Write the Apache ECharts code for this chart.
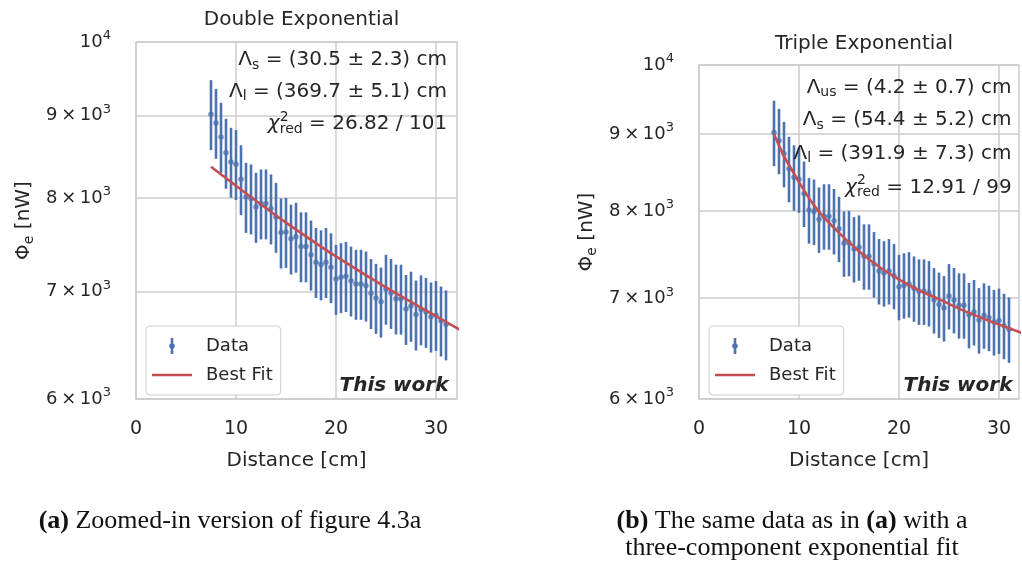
<!DOCTYPE html>
<html>
<head>
<meta charset="utf-8">
<script src="https://cdn.jsdelivr.net/npm/echarts@6/dist/echarts.min.js"></script>
<style>
  html, body { margin: 0; padding: 0; background: #fff; }
  #chart { width: 1022px; height: 568px; }
</style>
</head>
<body>
<div id="chart"></div>
<script>
// measured radiant flux vs. distance (same data in both panels)
const distance = [7.5, 8, 8.5, 9, 9.5, 10, 10.5, 11, 11.5, 12, 12.5, 13, 13.5, 14, 14.5, 15,
  15.5, 16, 16.5, 17, 17.5, 18, 18.5, 19, 19.5, 20, 20.5, 21, 21.5, 22, 22.5, 23,
  23.5, 24, 24.5, 25, 25.5, 26, 26.5, 27, 27.5, 28, 28.5, 29, 29.5, 30, 30.5, 31]
const flux = [9018, 8906, 8730, 8533, 8423, 8396, 8216, 8011, 7993, 7897, 7936, 7936, 7879, 7785, 7613, 7619,
  7547, 7567, 7464, 7464, 7376, 7298, 7274, 7298, 7244, 7124, 7141, 7153, 7107, 7074, 7074, 7056,
  6981, 6933, 6896, 7024, 6982, 6926, 6925, 6824, 6855, 6770, 6820, 6795, 6750, 6765, 6712, 6675]
const fluxErr = [451, 445, 437, 427, 421, 420, 411, 401, 400, 395, 397, 397, 394, 389, 381, 381,
  377, 378, 373, 373, 369, 365, 364, 365, 362, 356, 357, 358, 355, 354, 354, 353,
  349, 347, 345, 351, 349, 346, 346, 341, 343, 339, 341, 340, 338, 338, 336, 334]

// best-fit curves
const fitDistDouble = [7.5, 10, 12.5, 15, 17.5, 20, 22.5, 25, 27.5, 30, 32.5]
const fitFluxDouble = [8365, 8140, 7925, 7722, 7535, 7358, 7195, 7040, 6895, 6755, 6620]
const fitDistTriple = [7.5, 8.5, 9.5, 10.5, 11.5, 12.5, 14, 16, 18, 20, 22, 24, 26, 28, 30, 32.5]
const fitFluxTriple = [9000, 8700, 8470, 8255, 8068, 7920, 7735, 7520, 7345, 7205, 7085, 6990, 6890, 6803, 6723, 6630]

const xTicks = [0, 10, 20, 30]
const yTicks = [6000, 7000, 8000, 9000, 10000]

const BLUE = '#4C72B0'
const RED = '#C44E52'
const TEXT = '#262626'
const GRID = '#cccccc'
const FONT = 'DejaVu Sans'
const SERIF = 'Liberation Serif'

const lg = v => Math.log10(v)

const panels = [
  { grid: { left: 136, top: 42, width: 321, height: 357 }, xMax: 32.1, title: 'Double Exponential', titleTop: 5,
    fitX: fitDistDouble, fitY: fitFluxDouble },
  { grid: { left: 699, top: 65, width: 320, height: 334 }, xMax: 32.0, title: 'Triple Exponential', titleTop: 29,
    fitX: fitDistTriple, fitY: fitFluxTriple }
]

const chart = echarts.init(document.getElementById('chart'), null, { renderer: 'canvas' })

// text width helper, used to left-align the chi^2 line so that the
// superscript and subscript can stack
const measureCtx = document.createElement('canvas').getContext('2d')
const textWidth = (font, s) => {
  measureCtx.font = font
  return measureCtx.measureText(s).width
}

const yLabel = v => {
  const n = Math.round(Math.pow(10, v))
  if (n === 10000) return '{n|10}{sup|4}'
  return '{n|' + (n / 1000) + '\u2009\u00d7\u200910}{sup|3}'
}

const tickRich = {
  n: { fontSize: 18, fontFamily: FONT, color: TEXT, lineHeight: 24 },
  sup: { fontSize: 13, fontFamily: FONT, color: TEXT, lineHeight: 24, padding: [0, 0, 12, 0] }
}

const errRows = distance.map((d, i) => [d, lg(flux[i] - fluxErr[i]), lg(flux[i] + fluxErr[i])])
const dotRows = distance.map((d, i) => [d, lg(flux[i])])

const dataIcon = 'path://M0,0M40,16M18.7,0h2.6v16h-2.6zM17.2,8a2.8,2.8 0 1,1 5.6,0a2.8,2.8 0 1,1 -5.6,0z'
const fitIcon = 'path://M0,0M40,16M0,6.7h40v2.6h-40z'

const series = []
panels.forEach((p, k) => {
  series.push({
    name: 'Data',
    type: 'custom',
    xAxisIndex: k,
    yAxisIndex: k,
    data: errRows,
    encode: { x: 0, y: [1, 2] },
    itemStyle: { color: BLUE },
    renderItem: (params, api) => {
      const top = api.coord([api.value(0), api.value(2)])
      const bot = api.coord([api.value(0), api.value(1)])
      return {
        type: 'line',
        shape: { x1: top[0], y1: top[1], x2: bot[0], y2: bot[1] },
        style: { stroke: BLUE, lineWidth: 2.6 }
      }
    }
  })
  series.push({
    name: 'Data',
    type: 'scatter',
    xAxisIndex: k,
    yAxisIndex: k,
    data: dotRows,
    symbolSize: 5.5,
    itemStyle: { color: BLUE }
  })
  series.push({
    name: 'Best Fit',
    type: 'line',
    xAxisIndex: k,
    yAxisIndex: k,
    data: p.fitX.map((d, i) => [d, lg(p.fitY[i])]),
    smooth: 0.3,
    symbol: 'none',
    clip: true,
    z: 5,
    lineStyle: { color: RED, width: 2.6 },
    itemStyle: { color: RED }
  })
})

const mathRich = {
  m: { fontSize: 20, fontFamily: FONT, fill: TEXT, lineHeight: 24 },
  i: { fontSize: 20, fontFamily: FONT, fontStyle: 'italic', fill: TEXT, lineHeight: 24 },
  sub: { fontSize: 14, fontFamily: FONT, fill: TEXT, lineHeight: 24, padding: [10, 0, 0, 0] },
  sup: { fontSize: 14, fontFamily: FONT, fill: TEXT, lineHeight: 24, padding: [0, 0, 13, 0], width: 0.1 }
}

const annText = (x, y, text, align) => ({
  type: 'text', x: x, y: y, z: 100,
  style: { text: text, rich: mathRich, align: align || 'right', verticalAlign: 'middle', fill: TEXT, fontSize: 20, fontFamily: FONT }
})

const lam = (sub, rest) => '{m|\u039b}{sub|' + sub + '}{m| = ' + rest + '}'

// chi^2_red line, right edge at xRight
const chiLine = (xRight, y, rest) => {
  const w = textWidth('italic 20px "DejaVu Sans"', '\u03c7') +
    textWidth('14px "DejaVu Sans"', 'red') +
    textWidth('20px "DejaVu Sans"', ' = ' + rest)
  return annText(xRight - w, y, '{i|\u03c7}{sup|2}{sub|red}{m| = ' + rest + '}', 'left')
}

const thisWork = x => ({
  type: 'text', x: x, y: 385.5, z: 100,
  style: { text: 'This work', align: 'right', verticalAlign: 'middle', fill: TEXT,
    fontSize: 20, fontFamily: FONT, fontWeight: 'bold', fontStyle: 'italic' }
})

const capRich = {
  b: { fontSize: 26, fontFamily: SERIF, fontWeight: 'bold', fill: '#111' },
  t: { fontSize: 26, fontFamily: SERIF, fill: '#111' }
}
const caption = (x, y, text) => ({
  type: 'text', x: x, y: y,
  style: { text: text, rich: capRich, align: 'center', verticalAlign: 'middle', fill: '#111' }
})

const option = {
  animation: false,
  backgroundColor: '#fff',
  title: panels.map(p => ({
    text: p.title,
    left: p.grid.left + p.grid.width / 2,
    top: p.titleTop,
    textAlign: 'center',
    textStyle: { fontSize: 20, fontWeight: 'normal', color: TEXT, fontFamily: FONT }
  })),
  legend: panels.map(p => ({
    orient: 'vertical',
    left: p.grid.left + 10,
    top: 326,
    itemWidth: 40,
    itemHeight: 16,
    itemGap: 11,
    padding: [11, 8, 11, 6],
    backgroundColor: '#fff',
    borderColor: GRID,
    borderWidth: 1,
    borderRadius: 4,
    textStyle: { fontSize: 18, fontFamily: FONT, color: TEXT, padding: [0, 0, 0, 9] },
    data: [
      { name: 'Data', icon: dataIcon, itemStyle: { color: BLUE } },
      { name: 'Best Fit', icon: fitIcon, itemStyle: { color: RED } }
    ]
  })),
  grid: panels.map(p => Object.assign({
    show: true, borderColor: GRID, borderWidth: 1.5, backgroundColor: '#fff', outerBoundsMode: 'none'
  }, p.grid)),
  xAxis: panels.map((p, k) => ({
    type: 'value',
    gridIndex: k,
    min: 0,
    max: p.xMax,
    name: 'Distance [cm]',
    nameLocation: 'middle',
    nameGap: 52,
    nameTextStyle: { fontSize: 20, fontFamily: FONT, color: TEXT },
    axisLine: { show: false },
    axisTick: { show: false, customValues: xTicks },
    axisLabel: { customValues: xTicks, fontSize: 19, fontFamily: FONT, color: TEXT, margin: 21 },
    splitLine: { show: true, lineStyle: { color: GRID, width: 1.5 } }
  })),
  yAxis: panels.map((p, k) => ({
    type: 'value',
    gridIndex: k,
    min: lg(yTicks[0]),
    max: lg(yTicks[yTicks.length - 1]),
    name: '{t|\u03a6}{s|e}{t| [nW]}',
    nameLocation: 'middle',
    nameGap: 100,
    nameRotate: 90,
    nameTextStyle: {
      rich: {
        t: { fontSize: 20, fontFamily: FONT, color: TEXT, lineHeight: 24 },
        s: { fontSize: 14, fontFamily: FONT, color: TEXT, lineHeight: 24, padding: [10, 0, 0, 0] }
      }
    },
    axisLine: { show: false },
    axisTick: { show: false, customValues: yTicks.map(lg) },
    axisLabel: { customValues: yTicks.map(lg), formatter: yLabel, rich: tickRich, margin: 25 },
    splitLine: { show: true, lineStyle: { color: GRID, width: 1.5 } }
  })),
  series: series,
  graphic: [
    annText(447, 60, lam('s', '(30.5 \u00b1 2.3) cm')),
    annText(447, 91.3, lam('l', '(369.7 \u00b1 5.1) cm')),
    chiLine(447, 124, '26.82 / 101'),
    annText(1011.5, 87.3, lam('us', '(4.2 \u00b1 0.7) cm')),
    annText(1011.5, 120, lam('s', '(54.4 \u00b1 5.2) cm')),
    annText(1011.5, 153.3, lam('l', '(391.9 \u00b1 7.3) cm')),
    chiLine(1011.5, 187.3, '12.91 / 99'),
    thisWork(448.5),
    thisWork(1012.5),
    caption(230, 521, '{b|(a)}{t| Zoomed-in version of figure 4.3a}'),
    caption(792, 521, '{b|(b)}{t| The same data as in }{b|(a)}{t| with a}'),
    caption(792, 548, '{t|three-component exponential fit}')
  ]
}

chart.setOption(option)
window.addEventListener('resize', () => chart.resize())
</script>
</body>
</html>
